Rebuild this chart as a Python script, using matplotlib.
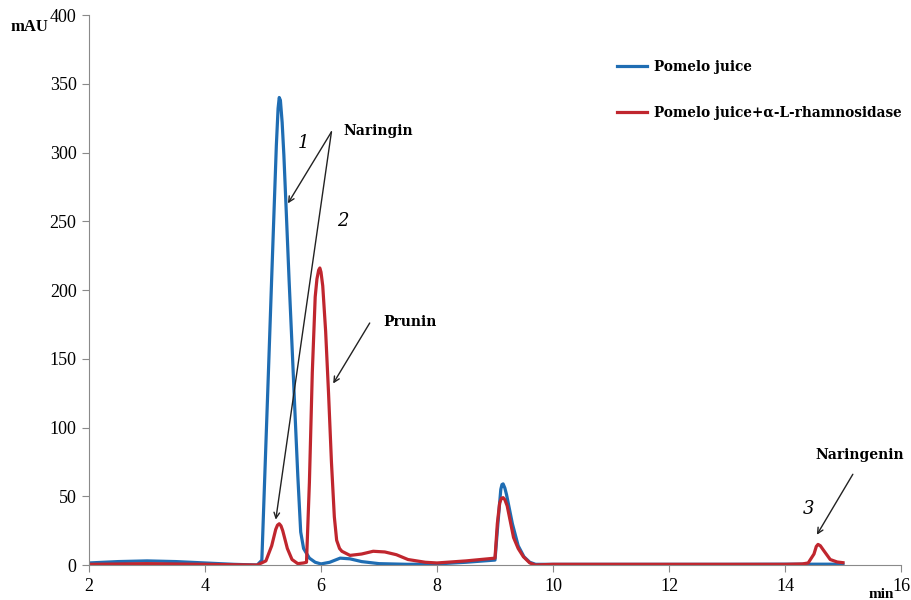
import matplotlib
matplotlib.use("Agg")
import matplotlib.pyplot as plt
from matplotlib.lines import Line2D

# retention time (min) and absorbance (mAU)
blue_t = [2.0, 2.5, 3.0, 3.5, 4.0, 4.5, 4.9, 4.98, 5.05, 5.1, 5.15, 5.2, 5.23, 5.26,
          5.28, 5.3, 5.33, 5.36, 5.4, 5.45, 5.5, 5.55, 5.6, 5.65, 5.7, 5.8, 5.9, 6.0,
          6.15, 6.33, 6.5, 6.7, 7.0, 7.5, 8.0, 8.5, 9.0, 9.05, 9.1, 9.12, 9.14, 9.17,
          9.2, 9.3, 9.4, 9.5, 9.6, 9.7, 10.0, 11.0, 12.0, 13.0, 14.0, 15.0]
blue_mau = [1.5, 2.5, 3, 2.5, 1.5, 0.5, 0, 3.5, 88, 148, 209, 269, 305, 332,
            340, 338, 322, 298, 258, 207, 160, 112, 65, 24, 12, 5, 2, 0.8,
            2, 5, 4.5, 2.5, 1, 0.5, 0.8, 2, 3.6, 30, 55, 58.5, 59, 56,
            51, 30, 14, 6, 2, 0.5, 0.5, 0.5, 0.5, 0.5, 0.6, 0.6]

red_t = [2.0, 3.0, 4.0, 4.5, 4.9, 5.05, 5.15, 5.22, 5.25, 5.28, 5.31, 5.34, 5.42,
         5.5, 5.6, 5.7, 5.75, 5.8, 5.85, 5.9, 5.93, 5.96, 5.98, 6.0, 6.03, 6.08,
         6.13, 6.18, 6.23, 6.27, 6.32, 6.36, 6.5, 6.7, 6.9, 7.1, 7.3, 7.5, 7.8, 8.0,
         8.5, 9.0, 9.04, 9.08, 9.11, 9.14, 9.17, 9.21, 9.32, 9.4, 9.49, 9.6, 9.7,
         9.8, 10.0, 12.0, 14.0, 14.3, 14.4, 14.5, 14.54, 14.57, 14.61, 14.66, 14.78,
         14.9, 15.0]
red_mau = [0.5, 1, 0.5, 0.2, 0, 3, 14, 26, 29, 30, 28.5, 25, 12,
           4, 1, 1.5, 2, 60, 140, 195, 208, 214.5, 216, 213, 203, 170,
           125, 75, 35, 18, 12, 10, 7, 8, 10, 9.5, 7.5, 4, 2, 1.5,
           3, 5, 30, 45, 48.5, 49, 47.5, 43, 20, 12, 6, 1.5, 0,
           0.2, 0.5, 0.5, 0.5, 0.8, 1.5, 8, 13.5, 15, 14, 11, 4,
           2.2, 1.7]

series_labels = ["Pomelo juice", "Pomelo juice+\u03b1-L-rhamnosidase"]
blue = "#1f6db3"
red = "#c0262e"

serif = ["Liberation Serif", "DejaVu Serif"]
bold_serif = ["DejaVu Serif"]

fig = plt.figure(figsize=(9.11, 6.0), dpi=100)
ax = fig.add_axes([0.0977, 0.0583, 0.8913, 0.9167])

ax.plot(blue_t, blue_mau, color=blue, lw=2.3, solid_joinstyle="round")
ax.plot(red_t, red_mau, color=red, lw=2.3, solid_joinstyle="round")

ax.set_xlim(2, 16)
ax.set_ylim(0, 400)
ax.set_xticks(range(2, 17, 2))
ax.set_yticks(range(0, 401, 50))
for s in ["top", "right"]:
    ax.spines[s].set_visible(False)
for s in ["left", "bottom"]:
    ax.spines[s].set_color("#8a8a8a")
ax.tick_params(direction="out", length=5, color="#8a8a8a", labelsize=13, pad=4)
for lab in ax.get_xticklabels() + ax.get_yticklabels():
    lab.set_family(serif)

fig.text(0.012, 0.948, "mAU", family=serif, fontweight="bold", fontsize=12)
fig.text(0.953, 0.004, "min", family=serif, fontweight="bold", fontsize=11)

handles = [Line2D([], [], color=blue, lw=2.3), Line2D([], [], color=red, lw=2.3)]
ax.legend(handles, series_labels, loc="upper left", bbox_to_anchor=(0.635, 0.94),
          frameon=False, labelspacing=2.3, handlelength=2.2, handletextpad=0.5,
          prop={"family": bold_serif, "weight": "bold", "size": 9.8})

arrow = dict(arrowstyle="->", color="#222222", lw=1.0, shrinkA=0, shrinkB=0)
tkw = dict(family=bold_serif, fontweight="bold", fontsize=10, va="center")
ax.text(6.38, 316, "Naringin", ha="left", **tkw)
ax.annotate("", xy=(5.43, 263), xytext=(6.18, 315), arrowprops=arrow)
ax.annotate("", xy=(5.22, 33), xytext=(6.18, 315), arrowprops=arrow)
ax.text(7.07, 177, "Prunin", ha="left", **tkw)
ax.annotate("", xy=(6.21, 132), xytext=(6.84, 176), arrowprops=arrow)
ax.text(14.52, 80, "Naringenin", ha="left", **tkw)
ax.annotate("", xy=(14.55, 22), xytext=(15.17, 66), arrowprops=arrow)

nkw = dict(family=bold_serif, fontstyle="italic", fontsize=13, ha="center", va="center")
ax.text(5.69, 307, "1", **nkw)
ax.text(6.38, 250, "2", **nkw)
ax.text(14.4, 41, "3", **nkw)

fig.savefig("out.png", dpi=100)
